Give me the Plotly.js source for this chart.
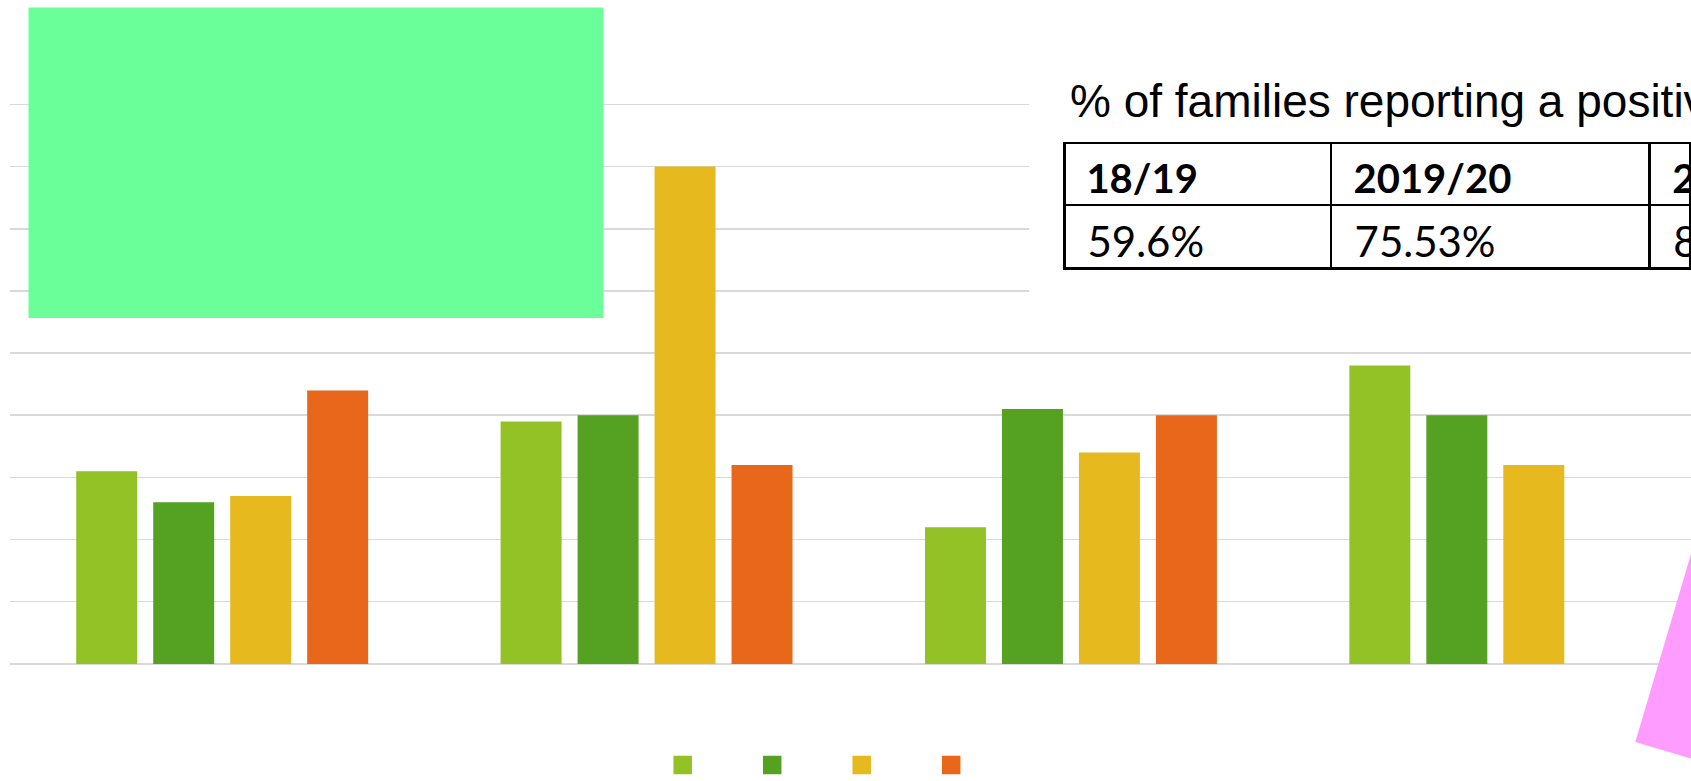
<!DOCTYPE html>
<html>
<head>
<meta charset="utf-8">
<script src="https://cdn.plot.ly/plotly-3.0.1.min.js"></script>
<style>
html,body{margin:0;padding:0;background:#ffffff;overflow:hidden;}
#chart{width:1691px;height:781px;}
</style>
</head>
<body>
<div id="chart"></div>
<script>
// ---- data ----
const categories = ['Group A', 'Group B', 'Group C', 'Group D'];
const seriesNames = ['Series 1', 'Series 2', 'Series 3', 'Series 4'];
const series1 = [31, 39, 22, 48];
const series2 = [26, 40, 41, 40];
const series3 = [27, 80, 34, 32];
const series4 = [44, 32, 40, null];
const tableTitle = '% of families reporting a positive';
const tableHeader = ['18/19', '2019/20', '2020/21'];
const tableValues = ['59.6%', '75.53%', '8'];

// ---- styling / geometry ----
const colors = ['#92C226', '#55A122', '#E6B91E', '#E8671A'];
const W = 1691, H = 781;
const L = 9.5, R = 1691;
const unit = 6.2133;          // px per y unit
const yZero = 663.7;          // px of y = 0
const yMin = -0.5, yMax = 92;
const plotTop = yZero - yMax * unit;
const plotBottom = yZero - yMin * unit;
const plotW = R - L, plotH = plotBottom - plotTop;
const catPx = 424.5;
const xRange = [-0.5, -0.5 + plotW / catPx];
const px2x = px => (px - L) / plotW;
const py2y = py => (plotBottom - py) / plotH;
const px2dx = px => xRange[0] + (px - L) / catPx;
const py2dy = py => (yZero - py) / unit;

const allSeries = [series1, series2, series3, series4];
const barTraces = allSeries.map((vals, i) => ({
  type: 'bar', x: categories, y: vals, name: seriesNames[i],
  marker: {color: colors[i], line: {width: 0}}, showlegend: false
}));
const legendTraces = colors.map(c => ({
  type: 'scatter', mode: 'markers', x: [null], y: [null], name: '',
  marker: {symbol: 'square', size: 16, color: c, line: {color: c, width: 2.5}},
  showlegend: true, hoverinfo: 'skip'
}));

const colW = [267.3, 319.1, 40.6];
const tableTop = 143, headH = 62.2, cellH = 63.7, textDrop = 12, textShift = 4.5;
// grid of the table (borders)
const tableGrid = {
  type: 'table',
  domain: {x: [px2x(1064), 1], y: [py2y(420), py2y(tableTop)]},
  columnwidth: colW,
  header: {values: tableHeader.map(() => ''), height: headH,
           line: {color: '#000000', width: 2.7}, fill: {color: '#ffffff'}},
  cells: {values: tableValues.map(() => ['']), height: cellH,
          line: {color: '#000000', width: 2.7}, fill: {color: '#ffffff'}}
};
// texts of the table
const tableText = {
  type: 'table',
  domain: {x: [px2x(1064 + textShift), 1], y: [py2y(440), py2y(tableTop + textDrop)]},
  columnwidth: [colW[0], colW[1], colW[2] - textShift],
  header: {
    values: tableHeader,
    align: 'left', height: headH,
    prefix: '\u00a0',
    line: {color: 'rgba(0,0,0,0)', width: 0},
    fill: {color: 'rgba(0,0,0,0)'},
    font: {family: 'Lato', size: 40, color: '#000000', weight: 700}
  },
  cells: {
    values: tableValues.map(v => [v]),
    align: 'left', height: cellH,
    prefix: '\u00a0',
    line: {color: 'rgba(0,0,0,0)', width: 0},
    fill: {color: 'rgba(0,0,0,0)'},
    font: {family: 'Lato', size: 42, color: '#000000'}
  }
};

const layout = {
  width: W, height: H,
  margin: {l: L, r: W - R, t: plotTop, b: H - plotBottom, pad: 0, autoexpand: false},
  paper_bgcolor: '#ffffff', plot_bgcolor: '#ffffff',
  barmode: 'group', bargap: 0.2744, bargroupgap: 0.2078,
  showlegend: true,
  legend: {
    orientation: 'h', xref: 'container', yref: 'container',
    x: 662.7 / W, y: 1 - 750.4 / H, xanchor: 'left', yanchor: 'top',
    entrywidth: 44.5, entrywidthmode: 'pixels',
    font: {size: 12}, bgcolor: 'rgba(0,0,0,0)'
  },
  xaxis: {type: 'category', range: xRange, showticklabels: false, showgrid: false,
          zeroline: false, showline: false, ticks: '', fixedrange: true},
  yaxis: {range: [yMin, yMax], tick0: 0, dtick: 10, showticklabels: false, ticks: '',
          showgrid: true, gridcolor: '#d9d9d9', gridwidth: 1.5,
          zeroline: true, zerolinecolor: '#d9d9d9', zerolinewidth: 1.5,
          showline: false, fixedrange: true},
  shapes: [
    {type: 'rect', xref: 'x', yref: 'y', layer: 'between',
     x0: px2dx(1029), x1: px2dx(1700), y0: py2dy(310), y1: py2dy(60),
     fillcolor: '#ffffff', line: {width: 0}},
    {type: 'rect', xref: 'paper', yref: 'paper', layer: 'above',
     x0: px2x(28), x1: px2x(603), y0: py2y(318), y1: py2y(7.5),
     fillcolor: '#6BFF99', line: {width: 0}},
    {type: 'path', xref: 'paper', yref: 'paper', layer: 'above',
     path: 'M' + px2x(1635.3) + ',' + py2y(741.7) + ' L' + px2x(1760) + ',' + py2y(321) +
           ' L' + px2x(1760) + ',' + py2y(779) + ' Z',
     fillcolor: '#FF9CFF', line: {width: 0}}
  ],
  annotations: [
    {xref: 'paper', yref: 'paper', x: px2x(1067.4), y: py2y(101), xanchor: 'left', yanchor: 'middle',
     text: tableTitle, showarrow: false,
     font: {family: 'Liberation Sans, Arial, sans-serif', size: 46, color: '#000000'}}
  ]
};

Plotly.newPlot('chart', [...barTraces, ...legendTraces, tableGrid, tableText], layout,
  {displayModeBar: false, staticPlot: true});
</script>
</body>
</html>
